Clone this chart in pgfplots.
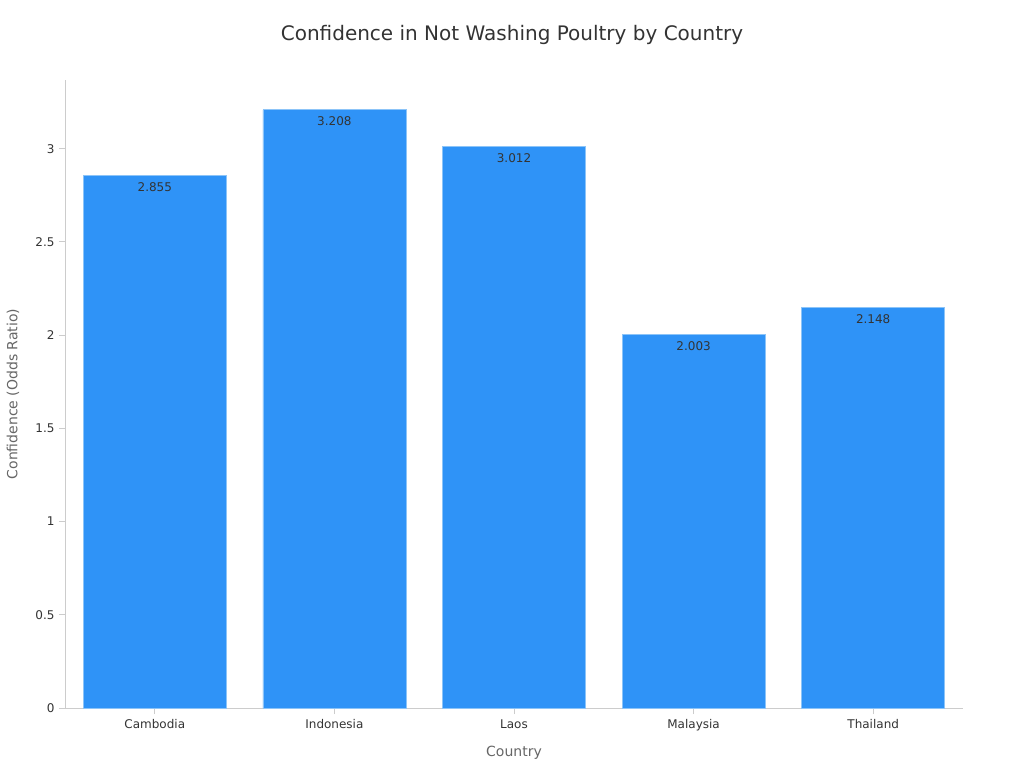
\documentclass[border=0pt]{standalone}
\usepackage{pgfplots}
\pgfplotsset{compat=1.18}
\usepackage{fontspec}
\setmainfont{DejaVu Sans}
\definecolor{barblue}{HTML}{2F93F7}
\definecolor{baredge}{HTML}{8CC4F8}
\definecolor{axgrey}{HTML}{CCCCCC}
\definecolor{txt}{HTML}{333333}
\definecolor{lbl}{HTML}{666666}
\begin{document}
\begin{tikzpicture}[x=1pt,y=1pt]
\useasboundingbox (0,0) rectangle (1024,768);
\node[font=\fontsize{20}{24}\selectfont, text=txt] at (512,733) {Confidence in Not Washing Poultry by Country};
\begin{axis}[
  at={(65pt,60pt)}, anchor=south west,
  scale only axis, width=898pt, height=628pt,
  xmin=-0.5, xmax=4.5, ymin=0, ymax=3.3684,
  axis x line*=bottom, axis y line*=left,
  axis line style={axgrey, line width=0.8pt},
  every tick/.style={axgrey, line width=0.8pt},
  tick align=outside, major tick length=6pt,
  xtick={0,1,2,3,4},
  xticklabels={Cambodia,Indonesia,Laos,Malaysia,Thailand},
  ytick={0,0.5,1,1.5,2,2.5,3},
  yticklabels={0,0.5,1,1.5,2,2.5,3},
  ticklabel style={font=\fontsize{12}{14}\selectfont, text=txt},
  xticklabel style={yshift=-2pt},
  yticklabel style={xshift=-1pt},
  xlabel={Country}, ylabel={Confidence (Odds Ratio)},
  label style={font=\fontsize{14}{17}\selectfont, text=lbl},
  xlabel style={at={(axis description cs:0.5,0)}, anchor=center, yshift=-45pt},
  ylabel style={at={(axis description cs:0,0.5)}, anchor=center, yshift=52pt},
  ybar, bar width=143pt,
  nodes near coords,
  point meta=explicit symbolic,
  every node near coord/.append style={font=\fontsize{12}{14}\selectfont, text=txt, anchor=north, yshift=-3pt},
  clip=false,
]
\addplot[fill=barblue, draw=baredge, line width=0.8pt] coordinates {
  (0,2.855) [2.855]
  (1,3.208) [3.208]
  (2,3.012) [3.012]
  (3,2.003) [2.003]
  (4,2.148) [2.148]
};
\end{axis}
\end{tikzpicture}
\end{document}
